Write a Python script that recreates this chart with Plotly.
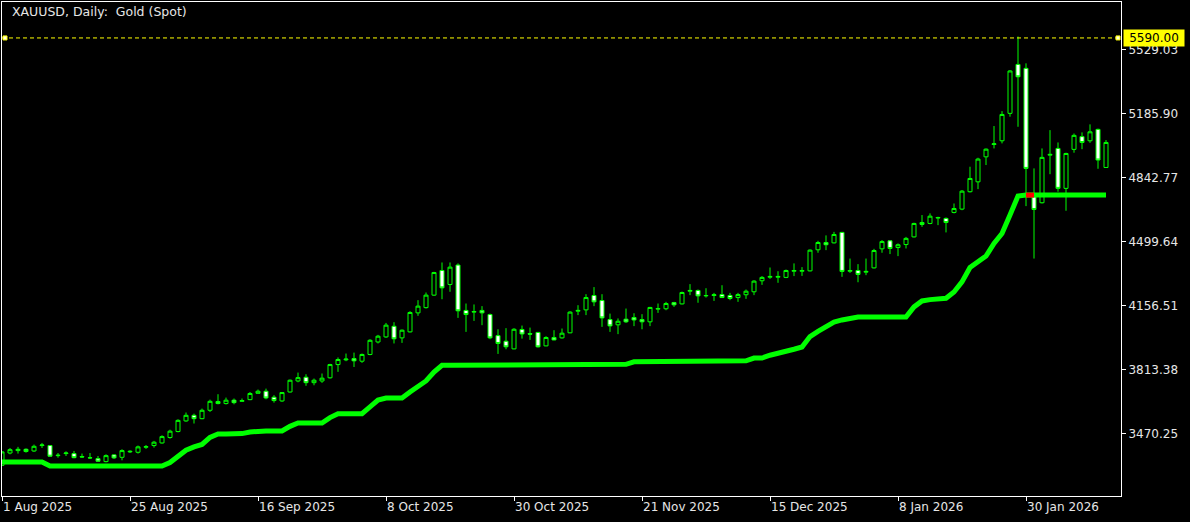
import pandas as pd
import plotly.graph_objects as go

# ---------------- data ----------------
symbol_title = "XAUUSD, Daily:  Gold (Spot)"
holidays = ["2025-12-25", "2026-01-01"]
dates = [d.strftime("%Y-%m-%d") for d in pd.bdate_range("2025-08-01", "2026-02-13")
         if d.strftime("%Y-%m-%d") not in holidays]

open_ = [3300, 3366, 3379, 3386, 3377, 3406, 3406, 3352, 3363, 3363,
         3347, 3341, 3336, 3320, 3356, 3343, 3372, 3370, 3397, 3406,
         3420, 3449, 3481, 3538, 3568, 3550, 3595, 3642, 3631, 3649,
         3643, 3652, 3686, 3697, 3665, 3645, 3693, 3752, 3772, 3743,
         3752, 3769, 3840, 3865, 3872, 3858, 3894, 3961, 3988, 4045,
         3983, 4015, 4117, 4145, 4212, 4344, 4269, 4373, 4130, 4121,
         4130, 4108, 3995, 3965, 3924, 4028, 4006, 4012, 3940, 3985,
         3983, 4010, 4126, 4133, 4210, 4183, 4081, 4053, 4083, 4092,
         4081, 4069, 4137, 4139, 4172, 4165, 4233, 4237, 4208, 4210,
         4215, 4210, 4199, 4214, 4230, 4289, 4308, 4308, 4307, 4340,
         4340, 4342, 4455, 4494, 4492, 4548, 4340, 4344, 4335, 4358,
         4460, 4503, 4467, 4483, 4524, 4601, 4596, 4625, 4623, 4655,
         4673, 4766, 4819, 4953, 5019, 5039, 5186, 5448, 5427, 4739,
         4707, 4962, 4998, 4784, 4993, 5061, 5039, 5100, 4896]
high = [3375, 3393, 3399, 3391, 3411, 3420, 3409, 3366, 3375, 3377,
        3363, 3366, 3350, 3359, 3359, 3386, 3381, 3406, 3409, 3431,
        3461, 3491, 3547, 3583, 3577, 3604, 3652, 3681, 3663, 3658,
        3658, 3693, 3706, 3711, 3676, 3693, 3760, 3797, 3788, 3765,
        3792, 3844, 3878, 3899, 3904, 3899, 3976, 3999, 4063, 4067,
        4028, 4126, 4185, 4226, 4337, 4387, 4387, 4382, 4167, 4162,
        4153, 4113, 4029, 4035, 4035, 4049, 4038, 4015, 3992, 4024,
        4033, 4126, 4158, 4217, 4255, 4217, 4113, 4087, 4140, 4115,
        4110, 4149, 4167, 4176, 4176, 4231, 4271, 4242, 4249, 4224,
        4265, 4224, 4224, 4242, 4292, 4314, 4360, 4340, 4349, 4382,
        4362, 4457, 4503, 4532, 4551, 4551, 4408, 4378, 4408, 4460,
        4507, 4507, 4489, 4524, 4600, 4641, 4650, 4632, 4628, 4703,
        4775, 4900, 4948, 4998, 5118, 5198, 5418, 5598, 5454, 4891,
        4998, 5096, 5030, 4975, 5078, 5084, 5127, 5104, 5043]
low = [3297, 3359, 3363, 3368, 3372, 3393, 3345, 3341, 3350, 3338,
       3340, 3334, 3318, 3316, 3334, 3327, 3366, 3363, 3388, 3395,
       3416, 3443, 3477, 3533, 3524, 3547, 3586, 3627, 3626, 3627,
       3640, 3649, 3685, 3654, 3636, 3640, 3690, 3745, 3726, 3729,
       3742, 3765, 3801, 3858, 3827, 3849, 3890, 3953, 3983, 3953,
       3956, 4012, 4101, 4140, 4208, 4190, 4230, 4090, 4015, 4074,
       4051, 3976, 3897, 3922, 3922, 3979, 3972, 3931, 3938, 3970,
       3979, 4008, 4105, 4105, 4153, 4042, 4015, 4003, 4063, 4046,
       4029, 4046, 4117, 4131, 4149, 4162, 4212, 4171, 4199, 4181,
       4197, 4185, 4176, 4192, 4212, 4267, 4299, 4278, 4303, 4314,
       4315, 4339, 4439, 4453, 4489, 4310, 4331, 4281, 4319, 4355,
       4439, 4432, 4421, 4462, 4521, 4578, 4592, 4587, 4548, 4650,
       4667, 4762, 4780, 4909, 4998, 5025, 5168, 5114, 4689, 4408,
       4703, 4860, 4766, 4664, 4975, 4994, 5028, 4889, 4894]
close = [3372, 3384, 3386, 3374, 3402, 3409, 3349, 3354, 3366, 3341,
         3345, 3340, 3322, 3352, 3340, 3379, 3375, 3399, 3400, 3424,
         3454, 3483, 3541, 3568, 3550, 3595, 3643, 3631, 3649, 3636,
         3647, 3685, 3697, 3661, 3647, 3690, 3756, 3770, 3743, 3756,
         3767, 3840, 3867, 3869, 3860, 3894, 3970, 3992, 4051, 3978,
         4024, 4119, 4153, 4212, 4333, 4251, 4362, 4128, 4108, 4124,
         4117, 3983, 3953, 3935, 4029, 4004, 4003, 3935, 3985, 3972,
         4008, 4121, 4130, 4199, 4176, 4090, 4047, 4072, 4069, 4079,
         4069, 4146, 4140, 4167, 4160, 4226, 4237, 4208, 4210, 4214,
         4199, 4194, 4215, 4233, 4287, 4307, 4312, 4312, 4344, 4344,
         4344, 4453, 4494, 4482, 4537, 4339, 4344, 4323, 4339, 4451,
         4499, 4462, 4482, 4516, 4596, 4591, 4635, 4628, 4601, 4676,
         4769, 4837, 4941, 4994, 5023, 5180, 5413, 5382, 4891, 4671,
         4950, 4966, 4784, 4971, 5068, 5030, 5087, 4936, 5030]
trail = [3318, 3318, 3318, 3318, 3318, 3318, 3296, 3296, 3296, 3296,
         3296, 3296, 3296, 3296, 3296, 3296, 3296, 3296, 3296, 3296,
         3296, 3315, 3348, 3381, 3399, 3412, 3450, 3468, 3468, 3468,
         3470, 3479, 3484, 3484, 3484, 3484, 3509, 3527, 3527, 3527,
         3527, 3556, 3577, 3577, 3577, 3577, 3613, 3650, 3661, 3661,
         3661, 3693, 3720, 3752, 3800, 3836, 3836, 3836, 3836, 3836,
         3836, 3836, 3836, 3836, 3836, 3836, 3836, 3836, 3836, 3836,
         3836, 3836, 3836, 3836, 3836, 3836, 3841, 3841, 3841, 3855,
         3855, 3855, 3855, 3855, 3855, 3855, 3855, 3855, 3855, 3855,
         3855, 3855, 3860, 3860, 3875, 3875, 3890, 3899, 3911, 3922,
         3934, 3990, 4018, 4045, 4068, 4079, 4089, 4095, 4095, 4095,
         4095, 4095, 4095, 4095, 4149, 4181, 4188, 4190, 4195, 4229,
         4283, 4360, 4387, 4421, 4489, 4542, 4641, 4743, 4748, 4748,
         4748, 4748, 4748, 4748, 4748, 4748, 4748, 4748, 4748]
trail_red_dates = ["2026-01-30", "2026-02-02"]

alert_level = 5590.00
y_tick_vals = [3470.25, 3813.38, 4156.51, 4499.64, 4842.77, 5185.90, 5529.03]
x_tick_dates = ["2025-08-01", "2025-08-25", "2025-09-16", "2025-10-08", "2025-10-30",
                "2025-11-21", "2025-12-15", "2026-01-08", "2026-01-30"]
x_tick_labels = ["1 Aug 2025", "25 Aug 2025", "16 Sep 2025", "8 Oct 2025", "30 Oct 2025",
                 "21 Nov 2025", "15 Dec 2025", "8 Jan 2026", "30 Jan 2026"]

# ---------------- styling ----------------
LIME = "#00FF00"
FG = "#E6E6E6"
FONT = "DejaVu Sans"

fig = go.Figure()
fig.add_trace(go.Candlestick(
    x=dates, open=open_, high=high, low=low, close=close,
    increasing=dict(line=dict(color=LIME, width=1), fillcolor="#000000"),
    decreasing=dict(line=dict(color=LIME, width=1), fillcolor="#FFFFFF"),
    whiskerwidth=0, hoverinfo="skip",
))
fig.add_trace(go.Scatter(x=dates, y=trail, mode="lines",
                         line=dict(color=LIME, width=5), hoverinfo="skip"))
red_y = [trail[dates.index(d)] for d in trail_red_dates]
fig.add_trace(go.Scatter(x=trail_red_dates, y=red_y, mode="lines",
                         line=dict(color="#FF0000", width=5), hoverinfo="skip"))

# dashed horizontal alert line with end squares
fig.add_shape(type="line", xref="paper", x0=0, x1=1, yref="y", y0=alert_level, y1=alert_level,
              line=dict(color="#FFFF00", width=1, dash="4px,3px"))
for xa in (0, 1):
    fig.add_shape(type="rect", xref="paper", xsizemode="pixel", xanchor=xa,
                  x0=(1 if xa == 0 else -5), x1=(5 if xa == 0 else -1),
                  yref="y", ysizemode="pixel", yanchor=alert_level, y0=-2, y1=2,
                  fillcolor="#FFFFE0", line=dict(color="#FFFF00", width=1))

fig.add_annotation(xref="paper", x=1, xanchor="left", xshift=2,
                   yref="y", y=alert_level, yanchor="middle",
                   text="5590.00", showarrow=False, bgcolor="#FFFF00",
                   font=dict(family=FONT, size=12, color="#000000"),
                   width=58, height=14, borderpad=1, align="center")

fig.add_annotation(xref="paper", x=0.007, xanchor="left",
                   yref="paper", y=0.98, yanchor="middle",
                   text=symbol_title, showarrow=False,
                   font=dict(family=FONT, size=12.5, color=FG))

fig.update_layout(
    width=1190, height=522,
    margin=dict(l=2, r=69, t=2, b=26, autoexpand=False),
    paper_bgcolor="#000000", plot_bgcolor="#000000",
    showlegend=False,
    font=dict(family=FONT, size=12, color=FG),
    boxgap=0.5, boxgroupgap=0,
    xaxis=dict(type="category", categoryorder="array", categoryarray=dates,
               range=[0, 139.875], tickvals=x_tick_dates, ticktext=x_tick_labels,
               ticks="outside", ticklen=4, tickcolor="#FFFFFF",
               ticklabelposition="outside right",
               showline=True, linecolor="#FFFFFF", linewidth=1, mirror=True,
               showgrid=False, zeroline=False, rangeslider=dict(visible=False),
               tickfont=dict(family=FONT, size=12, color=FG)),
    yaxis=dict(side="right", range=[3135.7, 5782.6],
               tickvals=y_tick_vals, ticktext=[f"{v:.2f}" for v in y_tick_vals],
               ticks="outside", ticklen=4, tickcolor="#FFFFFF",
               showline=True, linecolor="#FFFFFF", linewidth=1, mirror=True,
               showgrid=False, zeroline=False,
               tickfont=dict(family=FONT, size=12, color=FG)),
)

fig.write_html("out.html", config={"displayModeBar": False},
               post_script="document.body.style.margin='0px';")
